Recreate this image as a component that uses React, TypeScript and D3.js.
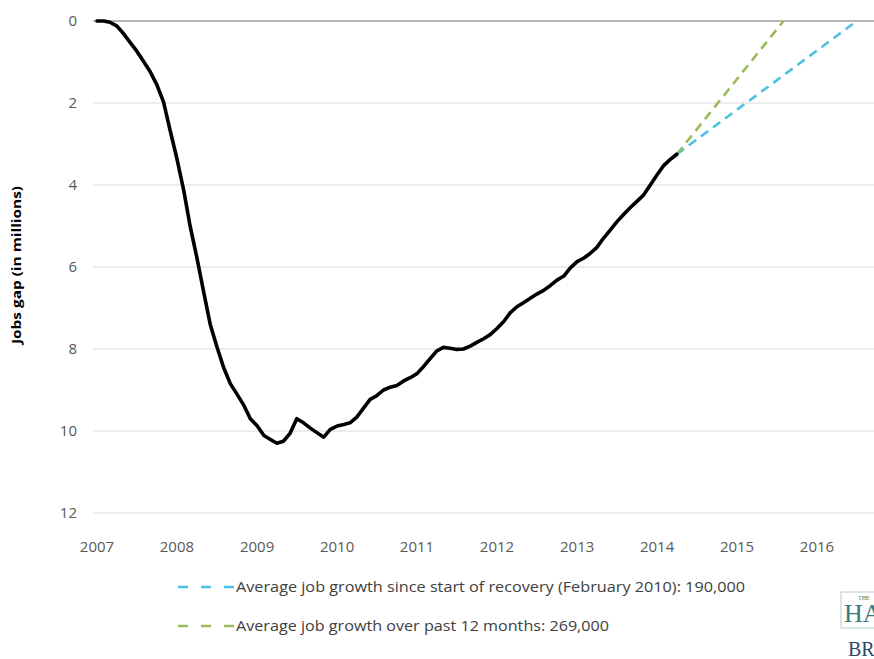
import React from "react";
import * as d3 from "d3";

// Monthly jobs gap (millions), Jan 2007 .. Apr 2014
const startMonth = "2007-01";
const jobsGap = [
  0, 0, 0.03, 0.12, 0.3, 0.52, 0.73, 0.98, 1.24, 1.55, 1.98, 2.67,
  3.36, 4.13, 5.0, 5.77, 6.58, 7.4, 7.94, 8.45, 8.85, 9.1, 9.37, 9.7,
  9.87, 10.11, 10.2, 10.3, 10.25, 10.05, 9.7, 9.8, 9.93, 10.04, 10.15, 9.96,
  9.88, 9.84, 9.8, 9.66, 9.45, 9.23, 9.14, 9.0, 8.93, 8.89, 8.78, 8.7,
  8.6, 8.42, 8.24, 8.05, 7.96, 7.98, 8.01, 8.0, 7.93, 7.84, 7.75, 7.65,
  7.5, 7.33, 7.12, 6.97, 6.87, 6.76, 6.66, 6.57, 6.45, 6.32, 6.22, 6.02,
  5.87, 5.78, 5.67, 5.52, 5.3, 5.1, 4.9, 4.72, 4.55, 4.4, 4.24, 4.0,
  3.75, 3.52, 3.38, 3.25,
];

const recoveryProjDates = ["2014-04", "2016-07"];
const recoveryProjValues = [3.25, 0];
const pastYearProjDates = ["2014-04", "2015-08"];
const pastYearProjValues = [3.25, 0];

const yTicks = [0, 2, 4, 6, 8, 10, 12];
const xTickYears = [2007, 2008, 2009, 2010, 2011, 2012, 2013, 2014, 2015, 2016];

const yAxisTitle = "Jobs gap (in millions)";
const legendLabels = [
  "Average job growth since start of recovery (February 2010): 190,000",
  "Average job growth over past 12 months: 269,000",
];

const BLUE = "#4cc1e2";
const GREEN = "#9bbb59";

const parseMonth = d3.timeParse("%Y-%m");

export default function App() {
  const W = 874;
  const H = 659;

  const x = d3
    .scaleTime()
    .domain([new Date(2007, 0, 1), new Date(2016, 0, 1)])
    .range([97, 817]);
  const y = d3.scaleLinear().domain([0, 12]).range([21, 513]);

  const start = parseMonth(startMonth)!;
  const mainPts: [Date, number][] = jobsGap.map((v, i) => [
    d3.timeMonth.offset(start, i),
    v,
  ]);
  const recPts: [Date, number][] = recoveryProjDates.map((d, i) => [
    parseMonth(d)!,
    recoveryProjValues[i],
  ]);
  const pastPts: [Date, number][] = pastYearProjDates.map((d, i) => [
    parseMonth(d)!,
    pastYearProjValues[i],
  ]);

  const line = d3
    .line<[Date, number]>()
    .x((d) => x(d[0]))
    .y((d) => y(d[1]));

  const font = "'Open Sans', 'Noto Sans', sans-serif";

  return (
    <svg
      width={W}
      height={H}
      style={{ position: "absolute", left: 0, top: 0, overflow: "hidden", background: "#fff" }}
    >
      <rect x={0} y={0} width={W} height={H} fill="#fff" />
      {/* grid lines */}
      {yTicks.map((t) => (
        <line
          key={t}
          x1={93}
          x2={W}
          y1={y(t)}
          y2={y(t)}
          stroke={t === 0 ? "#a0a0a0" : "#d9d9d9"}
          strokeWidth={t === 0 ? 1.3 : 1}
        />
      ))}
      {/* y tick labels */}
      {yTicks.map((t) => (
        <text
          key={t}
          x={77}
          y={y(t)}
          dy="0.36em"
          textAnchor="end"
          fontFamily={font}
          fontSize={15}
          fill="#595959"
        >
          {t}
        </text>
      ))}
      {/* x tick labels */}
      {xTickYears.map((yr) => (
        <text
          key={yr}
          x={x(new Date(yr, 0, 1))}
          y={552}
          textAnchor="middle"
          fontFamily={font}
          fontSize={15}
          fill="#595959"
        >
          {yr}
        </text>
      ))}
      {/* y axis title */}
      <text
        transform={`translate(21, ${265}) rotate(-90)`}
        textAnchor="middle"
        fontFamily={font}
        fontWeight="bold"
        fontSize={13}
        fill="#000"
        textLength={158}
        lengthAdjust="spacingAndGlyphs"
      >
        {yAxisTitle}
      </text>

      {/* projections */}
      <path
        d={line(recPts) || ""}
        fill="none"
        stroke={BLUE}
        strokeWidth={2.6}
        strokeDasharray="9 6"
      />
      <path
        d={line(pastPts) || ""}
        fill="none"
        stroke={GREEN}
        strokeWidth={2.6}
        strokeDasharray="9 6"
      />
      {/* main line */}
      <path
        d={line(mainPts) || ""}
        fill="none"
        stroke="#000"
        strokeWidth={3.6}
        strokeLinejoin="round"
        strokeLinecap="round"
      />

      {/* legend */}
      {legendLabels.map((lab, i) => {
        const ly = 587 + i * 39;
        return (
          <g key={i}>
            <line
              x1={178}
              x2={234}
              y1={ly}
              y2={ly}
              stroke={i === 0 ? BLUE : GREEN}
              strokeWidth={2.6}
              strokeDasharray="10 13"
            />
            <text
              x={236}
              y={ly + 5}
              fontFamily={font}
              fontSize={14}
              fill="#404040"
              textLength={i === 0 ? 509 : 373}
              lengthAdjust="spacingAndGlyphs"
            >
              {lab}
            </text>
          </g>
        );
      })}

      {/* logo (cut off at right edge, as in the source image) */}
      <rect x={841} y={592} width={60} height={36} fill="none" stroke="#b8cfcf" strokeWidth={1} />
      <text x={858} y={600} fontFamily="'Liberation Serif', serif" fontSize={6} fill="#3a7a78">
        THE
      </text>
      <text x={844} y={622} fontFamily="'Liberation Serif', serif" fontSize={26} fill="#3a7a78">
        HAMILTON
      </text>
      <text x={848} y={656} fontFamily="'Liberation Serif', serif" fontSize={20} fill="#2c4a6b">
        BROOKINGS
      </text>
    </svg>
  );
}
